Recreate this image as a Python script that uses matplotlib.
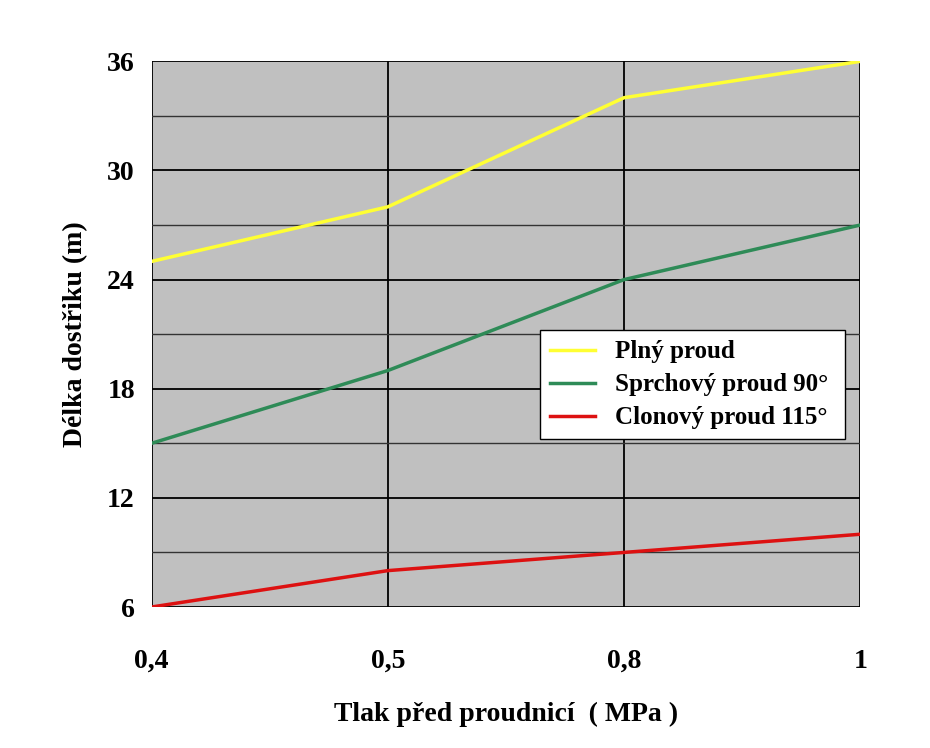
import matplotlib.pyplot as plt

# data
pressures = ['0,4', '0,5', '0,8', '1']
plny = [25, 28, 34, 36]
sprchovy = [15, 19, 24, 27]
clonovy = [6, 8, 9, 10]

plt.rcParams['font.family'] = 'Liberation Serif'
plt.rcParams['font.weight'] = 'bold'

fig = plt.figure(figsize=(9.3, 7.48), dpi=100)
ax = fig.add_axes([0.163, 0.1885, 0.762, 0.7295])
ax.set_facecolor('#c0c0c0')

x = range(len(pressures))
ax.plot(x, plny, color='#ffff33', lw=2.5, label='Plný proud')
ax.plot(x, sprchovy, color='#2e8b57', lw=2.5, label='Sprchový proud 90°')
ax.plot(x, clonovy, color='#dd1111', lw=2.5, label='Clonový proud 115°')

ax.set_xlim(0, 3)
ax.set_ylim(6, 36)
ax.set_xticks(list(x))
ax.set_xticklabels(pressures)
ax.set_yticks(range(6, 37, 6))
ax.set_yticks(range(9, 36, 6), minor=True)
ax.tick_params(axis='both', labelsize=20, length=0)
ax.tick_params(axis='x', pad=30)
ax.tick_params(axis='y', pad=12)
ax.tick_params(axis='y', which='minor', length=0)
ax.grid(True, which='major', color='black', lw=1.3)
ax.grid(True, which='minor', axis='y', color='#333333', lw=1)
ax.set_axisbelow(True)
for s in ax.spines.values():
    s.set_visible(False)

ax.set_xlabel('Tlak před proudnicí  ( MPa )', fontsize=20, fontweight='bold', labelpad=20)
ax.set_ylabel('Délka dostřiku (m)', fontsize=20, fontweight='bold', labelpad=14)

leg = ax.legend(loc='upper left', bbox_to_anchor=(0.548, 0.507, 0.431, 0.0),
                mode='expand', fontsize=18, frameon=True, fancybox=False,
                edgecolor='black', facecolor='white', framealpha=1,
                handlelength=1.8, borderaxespad=0, labelspacing=0.4)
leg.get_frame().set_linewidth(1)

fig.savefig('out.png', dpi=100, facecolor='white')
